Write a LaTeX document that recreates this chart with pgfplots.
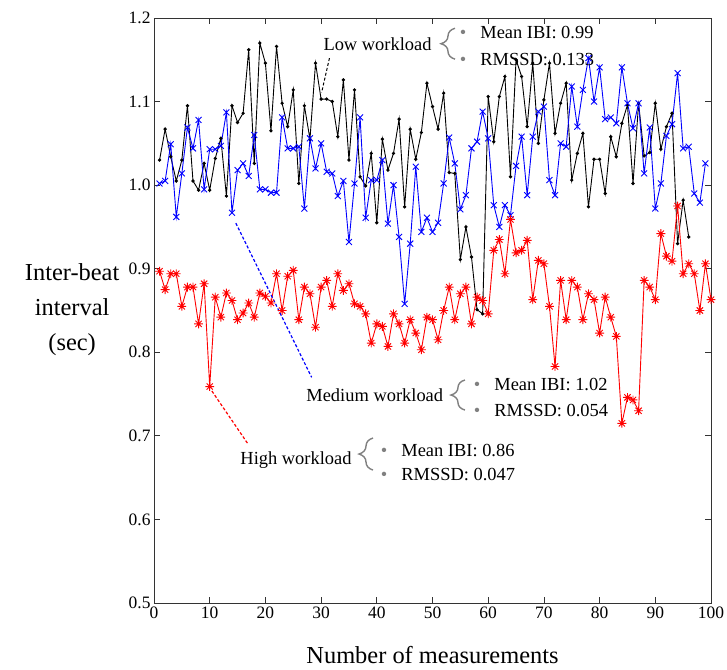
\documentclass[border=0pt]{standalone}
\usepackage{fontspec}
\setmainfont{Liberation Serif}
\usepackage{pgfplots}
\usepackage{pgfplotstable}
\pgfplotsset{compat=1.18}
\usetikzlibrary{decorations.pathreplacing}
\pgfdeclareplotmark{ast8}{%
 \pgfpathmoveto{\pgfqpoint{-\pgfplotmarksize}{0pt}}\pgfpathlineto{\pgfqpoint{\pgfplotmarksize}{0pt}}%
 \pgfpathmoveto{\pgfqpoint{0pt}{-\pgfplotmarksize}}\pgfpathlineto{\pgfqpoint{0pt}{\pgfplotmarksize}}%
 \pgfpathmoveto{\pgfqpoint{-0.707\pgfplotmarksize}{-0.707\pgfplotmarksize}}\pgfpathlineto{\pgfqpoint{0.707\pgfplotmarksize}{0.707\pgfplotmarksize}}%
 \pgfpathmoveto{\pgfqpoint{-0.707\pgfplotmarksize}{0.707\pgfplotmarksize}}\pgfpathlineto{\pgfqpoint{0.707\pgfplotmarksize}{-0.707\pgfplotmarksize}}%
 \pgfusepathqstroke}

\pgfplotstableread{
x y
1 1.030
2 1.067
3 1.034
4 1.005
5 1.030
6 1.095
7 1.005
8 0.994
9 1.026
10 0.994
11 1.032
12 1.056
13 0.987
14 1.095
15 1.075
16 1.086
17 1.162
18 1.026
19 1.170
20 1.146
21 1.065
22 1.166
23 1.098
24 1.070
25 1.114
26 1.002
27 1.095
28 1.055
29 1.146
30 1.103
31 1.103
32 1.100
33 1.058
34 1.126
35 1.030
36 1.114
37 1.010
38 0.999
39 1.038
40 0.955
41 1.055
42 1.018
43 1.038
44 1.079
45 0.974
46 1.067
47 1.031
48 1.063
49 1.122
50 1.094
51 1.067
52 1.110
53 1.015
54 1.014
55 0.911
56 0.950
57 0.914
58 0.851
59 0.846
60 1.106
61 1.052
62 1.106
63 1.130
64 1.010
65 1.150
66 1.130
67 1.070
68 1.146
69 1.050
70 1.102
71 1.146
72 1.062
73 1.098
74 1.122
75 1.006
76 1.038
77 1.062
78 0.974
79 1.031
80 1.031
81 0.990
82 1.058
83 1.034
84 1.074
85 1.096
86 1.002
87 1.098
88 1.035
89 1.039
90 1.098
91 1.043
92 1.070
93 1.086
94 0.930
95 0.982
96 0.938
}\lowdata

\pgfplotstableread{
x y
1 1.002
2 1.005
3 1.049
4 0.962
5 1.014
6 1.069
7 1.044
8 1.078
9 0.995
10 1.043
11 1.043
12 1.047
13 1.087
14 0.967
15 1.018
16 1.026
17 1.011
18 1.060
19 0.995
20 0.995
21 0.991
22 0.991
23 1.081
24 1.044
25 1.044
26 1.046
27 0.972
28 1.056
29 1.020
30 1.050
31 1.016
32 1.014
33 0.987
34 1.005
35 0.932
36 1.002
37 1.081
38 0.961
39 1.006
40 1.006
41 1.030
42 0.954
43 1.000
44 0.938
45 0.858
46 0.930
47 1.022
48 0.944
49 0.961
50 0.944
51 0.955
52 1.002
53 1.057
54 1.026
55 0.971
56 0.988
57 1.044
58 1.052
59 1.088
60 1.056
61 0.976
62 0.950
63 0.976
64 0.964
65 1.023
66 1.058
67 0.988
68 1.058
69 1.088
70 1.094
71 1.006
72 0.988
73 1.050
74 1.046
75 1.118
76 1.070
77 1.114
78 1.152
79 1.100
80 1.141
81 1.079
82 1.081
83 1.074
84 1.141
85 1.098
86 1.068
87 1.098
88 1.014
89 1.069
90 0.972
91 1.002
92 1.059
93 1.073
94 1.134
95 1.044
96 1.046
97 0.990
98 0.979
99 1.026
}\meddata

\pgfplotstableread{
x y
1 0.897
2 0.875
3 0.894
4 0.894
5 0.855
6 0.878
7 0.878
8 0.834
9 0.882
10 0.759
11 0.866
12 0.842
13 0.871
14 0.862
15 0.839
16 0.847
17 0.859
18 0.842
19 0.871
20 0.867
21 0.859
22 0.894
23 0.850
24 0.891
25 0.898
26 0.839
27 0.878
28 0.870
29 0.830
30 0.878
31 0.886
32 0.855
33 0.894
34 0.874
35 0.882
36 0.858
37 0.855
38 0.846
39 0.811
40 0.834
41 0.831
42 0.807
43 0.846
44 0.834
45 0.811
46 0.839
47 0.823
48 0.803
49 0.842
50 0.839
51 0.815
52 0.850
53 0.878
54 0.839
55 0.870
56 0.878
57 0.834
58 0.866
59 0.862
60 0.846
61 0.922
62 0.935
63 0.894
64 0.959
65 0.919
66 0.922
67 0.934
68 0.863
69 0.910
70 0.906
71 0.855
72 0.783
73 0.886
74 0.839
75 0.886
76 0.878
77 0.839
78 0.870
79 0.863
80 0.823
81 0.866
82 0.842
83 0.819
84 0.715
85 0.746
86 0.743
87 0.730
88 0.886
89 0.878
90 0.863
91 0.942
92 0.915
93 0.909
94 0.975
95 0.894
96 0.906
97 0.894
98 0.850
99 0.906
100 0.863
}\highdata

\tikzset{ann/.style={inner sep=0, font=\fontsize{18.5}{21}\selectfont}}

\begin{document}
\begin{tikzpicture}
\path[use as bounding box] (-154bp,-67bp) rectangle (573bp,603bp);
\begin{axis}[
  at={(0,0)}, anchor=south west,
  width=557bp, height=585bp, scale only axis,
  xmin=0, xmax=100, ymin=0.5, ymax=1.2,
  xtick={0,10,...,100},
  ytick={0.5,0.6,0.7,0.8,0.9,1.0,1.1,1.2},
  tick align=inside,
  tick pos=both,
  major tick length=6bp,
  axis line style={black!80, line width=0.9bp},
  every tick/.style={black!80, line width=0.8bp},
  clip=false,
  /pgf/number format/assume math mode=true,
  ticklabel style={font=\fontsize{17.5}{20}\selectfont},
  yticklabel style={/pgf/number format/.cd, fixed, fixed zerofill, precision=1},
  xticklabel style={/pgf/number format/.cd, fixed, precision=0},
  xlabel={Number of measurements},
  xlabel style={font=\fontsize{24.5}{28}\selectfont, at={(axis description cs:0.5,-0.089)}, anchor=center},
  ylabel={Inter-beat\\interval\\(sec)},
  ylabel style={font=\fontsize{24.5}{35}\selectfont, rotate=-90, align=center, at={(axis description cs:-0.147,0.501)}, anchor=center},
]
\addplot[black, line width=0.9bp, mark=*, mark size=1.2bp] table {\lowdata};
\addplot[blue, line width=0.9bp, mark=x, mark size=4.2bp, mark options={line width=0.9bp}] table {\meddata};
\addplot[red, line width=0.9bp, mark=ast8, mark size=4.4bp, mark options={line width=0.9bp}] table {\highdata};

\draw[black, line width=1bp, dash pattern=on 3bp off 2bp] (axis cs:31.5,1.152) -- (axis cs:30.1,1.111);
\draw[blue, line width=1.2bp, dash pattern=on 3bp off 2bp] (axis cs:14.7,0.9545) -- (axis cs:28.3,0.770);
\draw[red, line width=1.2bp, dash pattern=on 3bp off 2bp] (axis cs:10.4,0.7536) -- (axis cs:16.8,0.691);

\node[ann, anchor=east] at (axis cs:49.86,1.1683) {Low workload};
\draw[gray, line width=1.4bp, decorate, decoration={brace, amplitude=14bp}] (axis cs:54.04,1.1508) -- (axis cs:54.04,1.1877);
\node[ann, anchor=west] at (axis cs:54.89,1.1827) {\textcolor{gray}{\textbullet}\hspace{14bp}Mean IBI: 0.99};
\node[ann, anchor=west] at (axis cs:54.89,1.1504) {\textcolor{gray}{\textbullet}\hspace{14bp}RMSSD: 0.133};

\node[ann, anchor=east] at (axis cs:51.94,0.7489) {Medium workload};
\draw[gray, line width=1.4bp, decorate, decoration={brace, amplitude=14bp}] (axis cs:55.83,0.7309) -- (axis cs:55.83,0.7668);
\node[ann, anchor=west] at (axis cs:57.41,0.7620) {\textcolor{gray}{\textbullet}\hspace{14bp}Mean IBI: 1.02};
\node[ann, anchor=west] at (axis cs:57.41,0.7309) {\textcolor{gray}{\textbullet}\hspace{14bp}RMSSD: 0.054};

\node[ann, anchor=east] at (axis cs:35.5,0.6711) {High workload};
\draw[gray, line width=1.4bp, decorate, decoration={brace, amplitude=14bp}] (axis cs:39.32,0.6591) -- (axis cs:39.32,0.6974);
\node[ann, anchor=west] at (axis cs:40.71,0.6819) {\textcolor{gray}{\textbullet}\hspace{14bp}Mean IBI: 0.86};
\node[ann, anchor=west] at (axis cs:40.71,0.6532) {\textcolor{gray}{\textbullet}\hspace{14bp}RMSSD: 0.047};
\end{axis}
\end{tikzpicture}
\end{document}
